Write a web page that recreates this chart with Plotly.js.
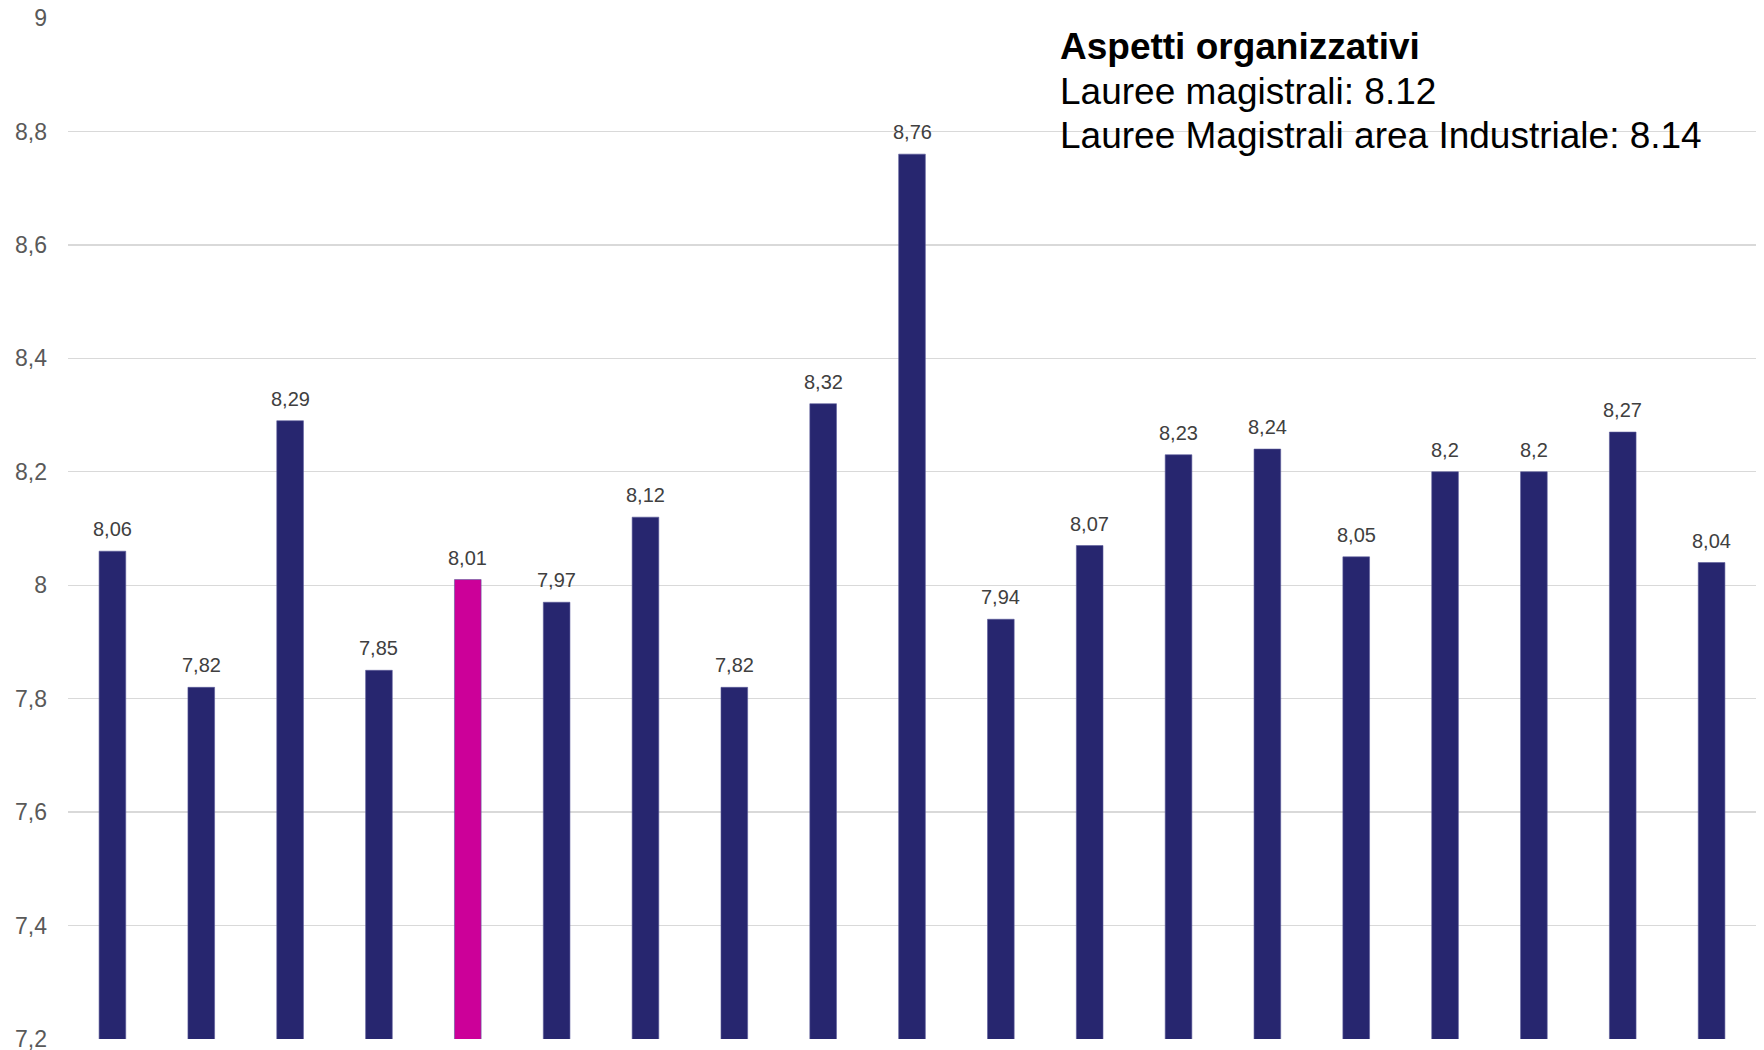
<!DOCTYPE html>
<html>
<head>
<meta charset="utf-8">
<script src="https://cdn.plot.ly/plotly-3.0.1.min.js"></script>
<style>
  html, body { margin: 0; padding: 0; background: #ffffff; }
  #chart { width: 1764px; height: 1050px; }
</style>
</head>
<body>
<div id="chart"></div>
<script>
// ---- data ----
var categories = ["C1","C2","C3","C4","C5","C6","C7","C8","C9","C10",
                  "C11","C12","C13","C14","C15","C16","C17","C18","C19"];
var values = [8.06, 7.82, 8.29, 7.85, 8.01, 7.97, 8.12, 7.82, 8.32, 8.76,
              7.94, 8.07, 8.23, 8.24, 8.05, 8.2, 8.2, 8.27, 8.04];
var highlightIndex = 4;
var titleLines = ["Aspetti organizzativi",
                  "Lauree magistrali: 8.12",
                  "Lauree Magistrali area Industriale: 8.14"];

var navy = "#27266f";
var magenta = "#cc0099";
var colors = values.map(function (v, i) { return i === highlightIndex ? magenta : navy; });

var trace = {
  type: "bar",
  x: categories,
  y: values,
  marker: { color: colors, line: { color: "#5a5a9a", width: 0.6 } },
  hoverinfo: "x+y"
};

var labelAnns = values.map(function (v, i) {
  return {
    x: categories[i], y: v, xref: "x", yref: "y",
    text: String(v).replace(".", ","),
    showarrow: false, yanchor: "bottom", yshift: 9,
    font: { family: "Liberation Sans, Arial, sans-serif", size: 20, color: "#404040" }
  };
});

var titleAnns = [
  { text: "<b>" + titleLines[0] + "</b>", y: 1 - (47 - 18) / 1021, size: 37 },
  { text: titleLines[1], y: 1 - (91 - 18) / 1021, size: 37 },
  { text: titleLines[2], y: 1 - (135 - 18) / 1021, size: 37 }
].map(function (t) {
  return {
    xref: "paper", yref: "paper", x: (1058 - 68) / 1688, y: t.y,
    xanchor: "left", yanchor: "middle", showarrow: false, align: "left",
    text: t.text,
    font: { family: "Liberation Sans, Arial, sans-serif", size: t.size, color: "#000000" }
  };
});

var layout = {
  width: 1764, height: 1050,
  margin: { l: 68, r: 8, t: 18, b: 11, pad: 0 },
  paper_bgcolor: "#ffffff", plot_bgcolor: "#ffffff",
  separators: ",.",
  showlegend: false,
  bargap: 0.70,
  xaxis: { type: "category", showticklabels: false, showgrid: false, zeroline: false, showline: false, ticks: "" },
  yaxis: {
    range: [7.2, 9], dtick: 0.2, tick0: 7.2,
    showgrid: true, gridcolor: "#d9d9d9", gridwidth: 1.3,
    zeroline: false, showline: false, ticks: "",
    ticklabelstandoff: 20,
    ticklabeloverflow: "allow",
    tickfont: { family: "Liberation Sans, Arial, sans-serif", size: 23, color: "#595959" }
  },
  annotations: labelAnns.concat(titleAnns)
};

Plotly.newPlot("chart", [trace], layout, { displayModeBar: false, staticPlot: true });
</script>
</body>
</html>
